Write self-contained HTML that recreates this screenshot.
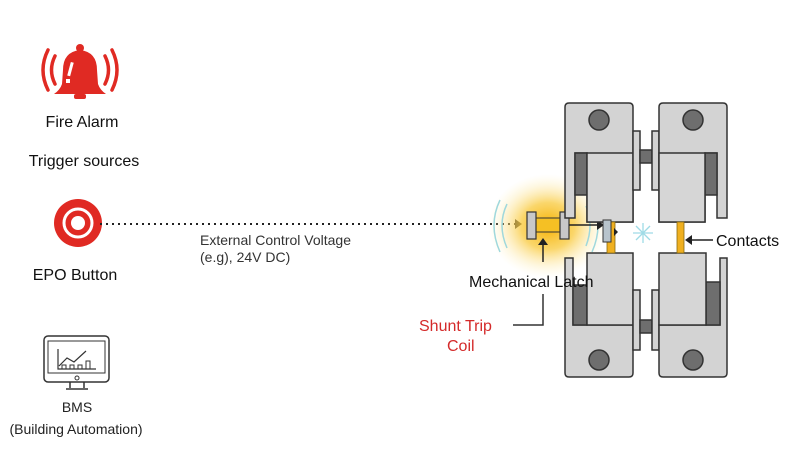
<!DOCTYPE html>
<html><head><meta charset="utf-8"><style>
html,body{margin:0;padding:0;background:#fff}
svg{display:block}
text{font-family:"Liberation Sans",sans-serif}
</style></head><body>
<svg width="800" height="453" viewBox="0 0 800 453" xmlns="http://www.w3.org/2000/svg">
<defs>
<radialGradient id="glow" cx="0.5" cy="0.5" r="0.5">
<stop offset="0" stop-color="#f5b000" stop-opacity="1"/>
<stop offset="0.45" stop-color="#f9c93a" stop-opacity="0.75"/>
<stop offset="0.8" stop-color="#fde7a0" stop-opacity="0.3"/>
<stop offset="1" stop-color="#fff3c0" stop-opacity="0"/>
</radialGradient>
</defs>
<!-- Fire alarm bell -->
<g fill="#e02a23">
<path d="M63,70 Q63,52 80,50 Q97,52 97,70 L98,84 Q100,90 106,94 L54,94 Q60,90 62,84 Z"/>
<rect x="74" y="94" width="12" height="5" rx="2"/>
<circle cx="80" cy="48" r="4"/>
</g>
<rect x="69" y="62" width="3" height="14" fill="#fff" transform="rotate(15 70 69)"/>
<rect x="66" y="79" width="4" height="4" fill="#fff"/>
<g fill="none" stroke="#e02a23" stroke-width="3.5" stroke-linecap="round">
<path d="M55,56 Q48,70 55,84"/><path d="M48,50 Q38,70 48,90"/>
<path d="M105,56 Q112,70 105,84"/><path d="M112,50 Q122,70 112,90"/>
</g>
<text x="82" y="127" font-size="16" text-anchor="middle" fill="#111">Fire Alarm</text>
<text x="84" y="166" font-size="16" text-anchor="middle" fill="#111">Trigger sources</text>
<!-- EPO -->
<circle cx="78" cy="223" r="24" fill="#e02a23"/>
<circle cx="78" cy="223" r="14" fill="none" stroke="#fff" stroke-width="3"/>
<circle cx="78" cy="223" r="7" fill="#fff"/>
<text x="75" y="280" font-size="16" text-anchor="middle" fill="#111">EPO Button</text>
<!-- BMS -->
<rect x="44" y="336" width="65" height="46" rx="4" fill="#fff" stroke="#333" stroke-width="1.5"/>
<rect x="48" y="341" width="57" height="32" fill="#fff" stroke="#333" stroke-width="1"/>
<circle cx="77" cy="378" r="2" fill="none" stroke="#333"/>
<path d="M70,382 v6 M84,382 v6 M66,389 h22" stroke="#333" stroke-width="1.5" fill="none"/>
<path d="M58,349 v20 h38 M59,366 l8,-8 l7,4 l12,-11" stroke="#333" stroke-width="1.2" fill="none"/>
<path d="M62,369 v-4 h4 v4 M70,369 v-4 h4 v4 M78,369 v-4 h4 v4 M86,369 v-8 h4 v8" stroke="#333" fill="none" stroke-width="1"/>
<text x="77" y="412" font-size="14" text-anchor="middle" fill="#222">BMS</text>
<text x="76" y="434" font-size="14" text-anchor="middle" fill="#222">(Building Automation)</text>
<!-- dotted line -->
<line x1="100" y1="224" x2="515" y2="224" stroke="#222" stroke-width="2" stroke-dasharray="2,4"/>
<path d="M515,219 L522,224 L515,229 Z" fill="#222"/>
<text x="200" y="245" font-size="14" fill="#333">External Control Voltage</text>
<text x="200" y="262" font-size="14" fill="#333">(e.g), 24V DC)</text>
<!-- glow -->
<ellipse cx="548" cy="226" rx="60" ry="52" fill="url(#glow)"/>
<g fill="none" stroke="#9fd8dc" stroke-width="1.5">
<path d="M500,200 Q488,225 500,252"/><path d="M507,204 Q497,225 507,248"/>
<path d="M592,200 Q604,225 592,252"/><path d="M586,206 Q594,225 586,246"/>
</g>
<!-- latch -->
<rect x="535" y="218" width="26" height="14" fill="#f5c024" stroke="#333" stroke-width="1"/>
<rect x="527" y="212" width="9" height="27" fill="#c8c8c8" stroke="#333" stroke-width="1.2"/>
<rect x="560" y="212" width="9" height="27" fill="#c8c8c8" stroke="#333" stroke-width="1.2"/>
<line x1="569" y1="225" x2="598" y2="225" stroke="#222" stroke-width="1.5"/>
<path d="M597,220 L604,225 L597,230 Z" fill="#222"/>
<path d="M565,212 V193 H575" stroke="#333" fill="none" stroke-width="1"/>
<!-- blocks -->
<g stroke="#333" stroke-width="1.5">
<path d="M569,103 H629 Q633,103 633,107 V222 H587 V153 H575 V218 H565 V107 Q565,103 569,103 Z" fill="#d3d3d3"/>
<rect x="575" y="153" width="12" height="42" fill="#6e6e6e"/>
<rect x="587" y="153" width="46" height="69" fill="#d6d6d6"/>
<rect x="633" y="131" width="7" height="59" fill="#d3d3d3"/>
<rect x="640" y="150" width="12" height="13" fill="#6e6e6e"/>
<rect x="652" y="131" width="7" height="59" fill="#d3d3d3"/>
<path d="M663,103 H723 Q727,103 727,107 V218 H717 V153 H705 V222 H659 V107 Q659,103 663,103 Z" fill="#d3d3d3"/>
<rect x="705" y="153" width="12" height="42" fill="#6e6e6e"/>
<rect x="659" y="153" width="46" height="69" fill="#d6d6d6"/>
<path d="M565,258 H573 V325 H633 V373 Q633,377 629,377 H569 Q565,377 565,373 Z" fill="#d3d3d3"/>
<rect x="573" y="285" width="14" height="40" fill="#6e6e6e"/>
<rect x="587" y="253" width="46" height="72" fill="#d6d6d6"/>
<rect x="633" y="290" width="7" height="60" fill="#d3d3d3"/>
<rect x="640" y="320" width="12" height="13" fill="#6e6e6e"/>
<rect x="652" y="290" width="7" height="60" fill="#d3d3d3"/>
<path d="M720,258 H727 V373 Q727,377 723,377 H663 Q659,377 659,373 V325 H720 Z" fill="#d3d3d3"/>
<rect x="706" y="282" width="14" height="43" fill="#6e6e6e"/>
<rect x="659" y="253" width="47" height="72" fill="#d6d6d6"/>
</g>
<g fill="#6e6e6e" stroke="#333" stroke-width="1.5">
<circle cx="599" cy="120" r="10"/><circle cx="693" cy="120" r="10"/>
<circle cx="599" cy="360" r="10"/><circle cx="693" cy="360" r="10"/>
</g>
<!-- contacts -->
<rect x="607" y="222" width="8" height="31" fill="#f0b020" stroke="#8a6a10" stroke-width="0.8"/>
<rect x="603" y="220" width="8" height="22" fill="#b8c4cc" stroke="#333" stroke-width="1"/>
<path d="M614,228 L618,232 L614,236 Z" fill="#222"/>
<rect x="677" y="222" width="7" height="31" fill="#f0b020" stroke="#8a6a10" stroke-width="0.8"/>
<g stroke="#9fdbe6" stroke-width="1.3">
<line x1="643" y1="223" x2="643" y2="243"/><line x1="633" y1="233" x2="653" y2="233"/>
<line x1="636" y1="226" x2="650" y2="240"/><line x1="650" y1="226" x2="636" y2="240"/>
</g>
<line x1="713" y1="240" x2="690" y2="240" stroke="#222" stroke-width="1.5"/>
<path d="M692,235 L685,240 L692,245 Z" fill="#222"/>
<text x="716" y="246" font-size="16" fill="#111">Contacts</text>
<!-- mechanical latch label -->
<line x1="543" y1="262" x2="543" y2="243" stroke="#222" stroke-width="1.5"/>
<path d="M538,245 L543,238 L548,245 Z" fill="#222"/>
<text x="469" y="287" font-size="16" fill="#111">Mechanical Latch</text>
<path d="M543,294 V325 H513" stroke="#333" stroke-width="1.5" fill="none"/>
<text x="419" y="331" font-size="16" fill="#d42a2a">Shunt Trip</text>
<text x="447" y="351" font-size="16" fill="#d42a2a">Coil</text>
</svg>
</body></html>
